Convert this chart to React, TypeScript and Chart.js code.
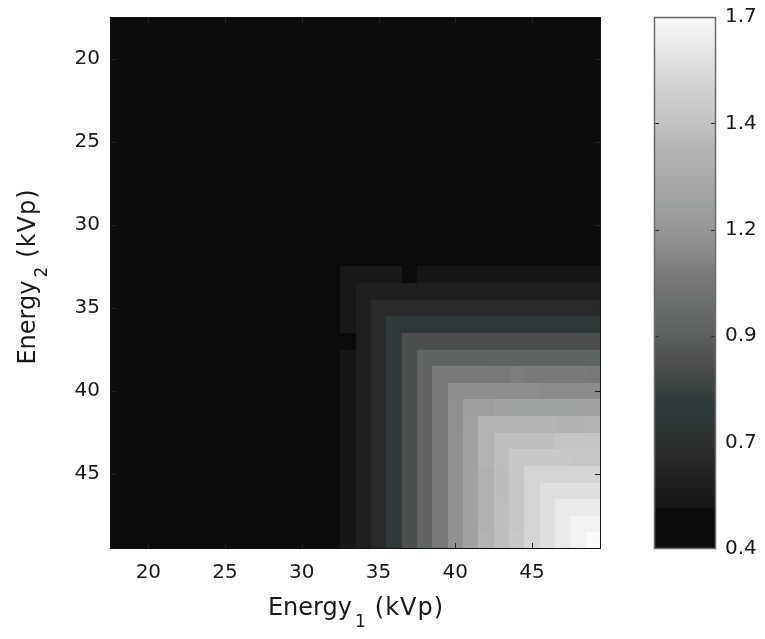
import React, { useEffect, useRef } from "react";
import { Chart, registerables } from "chart.js";

Chart.register(...registerables);

// Tube voltages on each axis (kVp)
const energy1 = [18, 19, 20, 21, 22, 23, 24, 25, 26, 27, 28, 29, 30, 31, 32, 33, 34, 35, 36, 37, 38, 39, 40, 41, 42, 43, 44, 45, 46, 47, 48, 49];
const energy2 = [18, 19, 20, 21, 22, 23, 24, 25, 26, 27, 28, 29, 30, 31, 32, 33, 34, 35, 36, 37, 38, 39, 40, 41, 42, 43, 44, 45, 46, 47, 48, 49];

// Figure of merit, one row per Energy2 value, one column per Energy1 value
const ratio: number[][] = [
  [0.45, 0.45, 0.45, 0.45, 0.45, 0.45, 0.45, 0.45, 0.45, 0.45, 0.45, 0.45, 0.45, 0.45, 0.45, 0.45, 0.45, 0.45, 0.45, 0.45, 0.45, 0.45, 0.45, 0.45, 0.45, 0.45, 0.45, 0.45, 0.45, 0.45, 0.45, 0.45],
  [0.45, 0.45, 0.45, 0.45, 0.45, 0.45, 0.45, 0.45, 0.45, 0.45, 0.45, 0.45, 0.45, 0.45, 0.45, 0.45, 0.45, 0.45, 0.45, 0.45, 0.45, 0.45, 0.45, 0.45, 0.45, 0.45, 0.45, 0.45, 0.45, 0.45, 0.45, 0.45],
  [0.45, 0.45, 0.45, 0.45, 0.45, 0.45, 0.45, 0.45, 0.45, 0.45, 0.45, 0.45, 0.45, 0.45, 0.45, 0.45, 0.45, 0.45, 0.45, 0.45, 0.45, 0.45, 0.45, 0.45, 0.45, 0.45, 0.45, 0.45, 0.45, 0.45, 0.45, 0.45],
  [0.45, 0.45, 0.45, 0.45, 0.45, 0.45, 0.45, 0.45, 0.45, 0.45, 0.45, 0.45, 0.45, 0.45, 0.45, 0.45, 0.45, 0.45, 0.45, 0.45, 0.45, 0.45, 0.45, 0.45, 0.45, 0.45, 0.45, 0.45, 0.45, 0.45, 0.45, 0.45],
  [0.45, 0.45, 0.45, 0.45, 0.45, 0.45, 0.45, 0.45, 0.45, 0.45, 0.45, 0.45, 0.45, 0.45, 0.45, 0.45, 0.45, 0.45, 0.45, 0.45, 0.45, 0.45, 0.45, 0.45, 0.45, 0.45, 0.45, 0.45, 0.45, 0.45, 0.45, 0.45],
  [0.45, 0.45, 0.45, 0.45, 0.45, 0.45, 0.45, 0.45, 0.45, 0.45, 0.45, 0.45, 0.45, 0.45, 0.45, 0.45, 0.45, 0.45, 0.45, 0.45, 0.45, 0.45, 0.45, 0.45, 0.45, 0.45, 0.45, 0.45, 0.45, 0.45, 0.45, 0.45],
  [0.45, 0.45, 0.45, 0.45, 0.45, 0.45, 0.45, 0.45, 0.45, 0.45, 0.45, 0.45, 0.45, 0.45, 0.45, 0.45, 0.45, 0.45, 0.45, 0.45, 0.45, 0.45, 0.45, 0.45, 0.45, 0.45, 0.45, 0.45, 0.45, 0.45, 0.45, 0.45],
  [0.45, 0.45, 0.45, 0.45, 0.45, 0.45, 0.45, 0.45, 0.45, 0.45, 0.45, 0.45, 0.45, 0.45, 0.45, 0.45, 0.45, 0.45, 0.45, 0.45, 0.45, 0.45, 0.45, 0.45, 0.45, 0.45, 0.45, 0.45, 0.45, 0.45, 0.45, 0.45],
  [0.45, 0.45, 0.45, 0.45, 0.45, 0.45, 0.45, 0.45, 0.45, 0.45, 0.45, 0.45, 0.45, 0.45, 0.45, 0.45, 0.45, 0.45, 0.45, 0.45, 0.45, 0.45, 0.45, 0.45, 0.45, 0.45, 0.45, 0.45, 0.45, 0.45, 0.45, 0.45],
  [0.45, 0.45, 0.45, 0.45, 0.45, 0.45, 0.45, 0.45, 0.45, 0.45, 0.45, 0.45, 0.45, 0.45, 0.45, 0.45, 0.45, 0.45, 0.45, 0.45, 0.45, 0.45, 0.45, 0.45, 0.45, 0.45, 0.45, 0.45, 0.45, 0.45, 0.45, 0.45],
  [0.45, 0.45, 0.45, 0.45, 0.45, 0.45, 0.45, 0.45, 0.45, 0.45, 0.45, 0.45, 0.45, 0.45, 0.45, 0.45, 0.45, 0.45, 0.45, 0.45, 0.45, 0.45, 0.45, 0.45, 0.45, 0.45, 0.45, 0.45, 0.45, 0.45, 0.45, 0.45],
  [0.45, 0.45, 0.45, 0.45, 0.45, 0.45, 0.45, 0.45, 0.45, 0.45, 0.45, 0.45, 0.45, 0.45, 0.45, 0.45, 0.45, 0.45, 0.45, 0.45, 0.45, 0.45, 0.45, 0.45, 0.45, 0.45, 0.45, 0.45, 0.45, 0.45, 0.45, 0.45],
  [0.45, 0.45, 0.45, 0.45, 0.45, 0.45, 0.45, 0.45, 0.45, 0.45, 0.45, 0.45, 0.45, 0.45, 0.45, 0.45, 0.45, 0.45, 0.45, 0.45, 0.45, 0.45, 0.45, 0.45, 0.45, 0.45, 0.45, 0.45, 0.45, 0.45, 0.45, 0.45],
  [0.45, 0.45, 0.45, 0.45, 0.45, 0.45, 0.45, 0.45, 0.45, 0.45, 0.45, 0.45, 0.45, 0.45, 0.45, 0.45, 0.45, 0.45, 0.45, 0.45, 0.45, 0.45, 0.45, 0.45, 0.45, 0.45, 0.45, 0.45, 0.45, 0.45, 0.45, 0.45],
  [0.45, 0.45, 0.45, 0.45, 0.45, 0.45, 0.45, 0.45, 0.45, 0.45, 0.45, 0.45, 0.45, 0.45, 0.45, 0.45, 0.45, 0.45, 0.45, 0.45, 0.45, 0.45, 0.45, 0.45, 0.45, 0.45, 0.45, 0.45, 0.45, 0.45, 0.45, 0.45],
  // Energy2 = 33
  [0.45, 0.45, 0.45, 0.45, 0.45, 0.45, 0.45, 0.45, 0.45, 0.45, 0.45, 0.45, 0.45, 0.45, 0.45, 0.52, 0.52, 0.52, 0.52, 0.45, 0.51, 0.51, 0.51, 0.51, 0.51, 0.51, 0.51, 0.51, 0.51, 0.51, 0.51, 0.51],
  [0.45, 0.45, 0.45, 0.45, 0.45, 0.45, 0.45, 0.45, 0.45, 0.45, 0.45, 0.45, 0.45, 0.45, 0.45, 0.52, 0.56, 0.56, 0.56, 0.56, 0.56, 0.56, 0.56, 0.56, 0.56, 0.56, 0.56, 0.56, 0.56, 0.56, 0.56, 0.56],
  [0.45, 0.45, 0.45, 0.45, 0.45, 0.45, 0.45, 0.45, 0.45, 0.45, 0.45, 0.45, 0.45, 0.45, 0.45, 0.52, 0.56, 0.63, 0.63, 0.63, 0.63, 0.63, 0.63, 0.63, 0.63, 0.63, 0.63, 0.63, 0.63, 0.63, 0.63, 0.63],
  [0.45, 0.45, 0.45, 0.45, 0.45, 0.45, 0.45, 0.45, 0.45, 0.45, 0.45, 0.45, 0.45, 0.45, 0.45, 0.52, 0.56, 0.63, 0.75, 0.75, 0.75, 0.75, 0.75, 0.75, 0.75, 0.75, 0.75, 0.75, 0.75, 0.75, 0.75, 0.75],
  [0.45, 0.45, 0.45, 0.45, 0.45, 0.45, 0.45, 0.45, 0.45, 0.45, 0.45, 0.45, 0.45, 0.45, 0.45, 0.45, 0.56, 0.63, 0.75, 0.85, 0.85, 0.85, 0.85, 0.85, 0.85, 0.85, 0.85, 0.85, 0.85, 0.85, 0.85, 0.85],
  [0.45, 0.45, 0.45, 0.45, 0.45, 0.45, 0.45, 0.45, 0.45, 0.45, 0.45, 0.45, 0.45, 0.45, 0.45, 0.51, 0.56, 0.63, 0.75, 0.85, 0.95, 0.95, 0.95, 0.95, 0.95, 0.95, 0.95, 0.95, 0.95, 0.95, 0.95, 0.95],
  [0.45, 0.45, 0.45, 0.45, 0.45, 0.45, 0.45, 0.45, 0.45, 0.45, 0.45, 0.45, 0.45, 0.45, 0.45, 0.51, 0.56, 0.63, 0.75, 0.85, 0.95, 1.07, 1.07, 1.07, 1.07, 1.06, 1.08, 1.07, 1.07, 1.07, 1.07, 1.06],
  [0.45, 0.45, 0.45, 0.45, 0.45, 0.45, 0.45, 0.45, 0.45, 0.45, 0.45, 0.45, 0.45, 0.45, 0.45, 0.51, 0.56, 0.63, 0.75, 0.85, 0.95, 1.07, 1.14, 1.14, 1.14, 1.14, 1.14, 1.14, 1.13, 1.13, 1.13, 1.13],
  [0.45, 0.45, 0.45, 0.45, 0.45, 0.45, 0.45, 0.45, 0.45, 0.45, 0.45, 0.45, 0.45, 0.45, 0.45, 0.51, 0.56, 0.63, 0.75, 0.85, 0.95, 1.07, 1.15, 1.23, 1.23, 1.25, 1.25, 1.25, 1.25, 1.25, 1.25, 1.25],
  [0.45, 0.45, 0.45, 0.45, 0.45, 0.45, 0.45, 0.45, 0.45, 0.45, 0.45, 0.45, 0.45, 0.45, 0.45, 0.51, 0.56, 0.63, 0.75, 0.85, 0.95, 1.07, 1.15, 1.24, 1.38, 1.38, 1.38, 1.38, 1.38, 1.36, 1.36, 1.37],
  [0.45, 0.45, 0.45, 0.45, 0.45, 0.45, 0.45, 0.45, 0.45, 0.45, 0.45, 0.45, 0.45, 0.45, 0.45, 0.51, 0.56, 0.63, 0.75, 0.85, 0.95, 1.07, 1.16, 1.25, 1.37, 1.42, 1.42, 1.42, 1.42, 1.45, 1.45, 1.45],
  [0.45, 0.45, 0.45, 0.45, 0.45, 0.45, 0.45, 0.45, 0.45, 0.45, 0.45, 0.45, 0.45, 0.45, 0.45, 0.51, 0.56, 0.63, 0.75, 0.85, 0.95, 1.07, 1.16, 1.25, 1.37, 1.42, 1.48, 1.48, 1.48, 1.48, 1.47, 1.47],
  [0.45, 0.45, 0.45, 0.45, 0.45, 0.45, 0.45, 0.45, 0.45, 0.45, 0.45, 0.45, 0.45, 0.45, 0.45, 0.51, 0.56, 0.63, 0.75, 0.85, 0.95, 1.07, 1.16, 1.25, 1.35, 1.41, 1.48, 1.54, 1.54, 1.54, 1.54, 1.54],
  [0.45, 0.45, 0.45, 0.45, 0.45, 0.45, 0.45, 0.45, 0.45, 0.45, 0.45, 0.45, 0.45, 0.45, 0.45, 0.51, 0.56, 0.63, 0.75, 0.85, 0.95, 1.07, 1.16, 1.25, 1.35, 1.41, 1.47, 1.54, 1.58, 1.58, 1.58, 1.58],
  [0.45, 0.45, 0.45, 0.45, 0.45, 0.45, 0.45, 0.45, 0.45, 0.45, 0.45, 0.45, 0.45, 0.45, 0.45, 0.51, 0.56, 0.63, 0.75, 0.85, 0.95, 1.07, 1.16, 1.25, 1.35, 1.42, 1.47, 1.54, 1.58, 1.63, 1.63, 1.63],
  [0.45, 0.45, 0.45, 0.45, 0.45, 0.45, 0.45, 0.45, 0.45, 0.45, 0.45, 0.45, 0.45, 0.45, 0.45, 0.51, 0.56, 0.63, 0.75, 0.85, 0.95, 1.07, 1.16, 1.25, 1.36, 1.42, 1.47, 1.54, 1.58, 1.63, 1.67, 1.67],
  [0.45, 0.45, 0.45, 0.45, 0.45, 0.45, 0.45, 0.45, 0.45, 0.45, 0.45, 0.45, 0.45, 0.45, 0.45, 0.51, 0.56, 0.63, 0.75, 0.85, 0.95, 1.07, 1.16, 1.25, 1.37, 1.42, 1.48, 1.54, 1.58, 1.63, 1.67, 1.70],
];

const axisTicks = [20, 25, 30, 35, 40, 45];
const colorbarTicks = [0.4, 0.66, 0.92, 1.18, 1.44, 1.7];
const colorbarMin = 0.4;
const colorbarMax = 1.7;

// Gray colormap with a slight cyan tint through the middle of the range
const grayStops: [number, number, number, number][] = [
  [0.4, 11, 11, 11],
  [0.5, 11, 11, 11],
  [0.501, 21, 21, 21],
  [0.56, 30, 30, 30],
  [0.63, 41, 42, 42],
  [0.7, 44, 52, 52],
  [0.76, 48, 58, 58],
  [0.85, 77, 78, 78],
  [0.95, 95, 101, 101],
  [1.07, 122, 122, 122],
  [1.14, 142, 142, 142],
  [1.25, 160, 163, 163],
  [1.38, 180, 180, 180],
  [1.42, 190, 190, 190],
  [1.48, 200, 200, 200],
  [1.54, 212, 212, 212],
  [1.58, 222, 222, 222],
  [1.63, 234, 234, 234],
  [1.67, 242, 242, 242],
  [1.7, 250, 250, 250],
];

function colorFor(v: number): string {
  if (v <= grayStops[0][0]) {
    const s = grayStops[0];
    return `rgb(${s[1]},${s[2]},${s[3]})`;
  }
  for (let i = 1; i < grayStops.length; i++) {
    const a = grayStops[i - 1];
    const b = grayStops[i];
    if (v <= b[0]) {
      const t = (v - a[0]) / (b[0] - a[0]);
      const r = Math.round(a[1] + (b[1] - a[1]) * t);
      const g = Math.round(a[2] + (b[2] - a[2]) * t);
      const bl = Math.round(a[3] + (b[3] - a[3]) * t);
      return `rgb(${r},${g},${bl})`;
    }
  }
  const s = grayStops[grayStops.length - 1];
  return `rgb(${s[1]},${s[2]},${s[3]})`;
}

const FONT = '"DejaVu Sans", "Liberation Sans", sans-serif';
const TEXT_COLOR = "#1a1a1a";

type Cell = { x: number; y: number; v: number };

// Fixed box size for an axis, without the extra edge padding Chart.js adds for labels
function fixBox(size: { width?: number; height?: number }) {
  return (s: any) => {
    if (size.width !== undefined) s.width = size.width;
    if (size.height !== undefined) s.height = size.height;
    s.paddingTop = 0;
    s.paddingBottom = 0;
    s.paddingLeft = 0;
    s.paddingRight = 0;
  };
}

const heatmapPlugin = {
  id: "heatmapCells",
  beforeDatasetsDraw(chart: any) {
    const { ctx, chartArea } = chart;
    const xs = chart.scales.x;
    const ys = chart.scales.y;
    const cells: Cell[] = chart.data.datasets[0].data;
    ctx.save();
    ctx.beginPath();
    ctx.rect(chartArea.left, chartArea.top, chartArea.right - chartArea.left, chartArea.bottom - chartArea.top);
    ctx.clip();
    for (const c of cells) {
      const x0 = Math.round(xs.getPixelForValue(c.x - 0.5));
      const x1 = Math.round(xs.getPixelForValue(c.x + 0.5));
      const y0 = Math.round(ys.getPixelForValue(c.y - 0.5));
      const y1 = Math.round(ys.getPixelForValue(c.y + 0.5));
      ctx.fillStyle = colorFor(c.v);
      ctx.fillRect(Math.min(x0, x1), Math.min(y0, y1), Math.abs(x1 - x0), Math.abs(y1 - y0));
    }
    ctx.restore();
  },
  afterDatasetsDraw(chart: any) {
    const { ctx, chartArea } = chart;
    const xs = chart.scales.x;
    const ys = chart.scales.y;
    const tick = 6;
    ctx.save();
    ctx.strokeStyle = "#262626";
    ctx.lineWidth = 1;
    ctx.beginPath();
    for (const v of axisTicks) {
      const px = Math.round(xs.getPixelForValue(v)) + 0.5;
      ctx.moveTo(px, chartArea.bottom);
      ctx.lineTo(px, chartArea.bottom - tick);
      ctx.moveTo(px, chartArea.top);
      ctx.lineTo(px, chartArea.top + tick);
      const py = Math.round(ys.getPixelForValue(v)) + 0.5;
      ctx.moveTo(chartArea.left, py);
      ctx.lineTo(chartArea.left + tick, py);
      ctx.moveTo(chartArea.right, py);
      ctx.lineTo(chartArea.right - tick, py);
    }
    ctx.stroke();
    ctx.strokeStyle = "#111111";
    ctx.strokeRect(chartArea.left + 0.5, chartArea.top + 0.5, chartArea.right - chartArea.left - 1, chartArea.bottom - chartArea.top - 1);
    ctx.restore();
  },
};

const colorbarPlugin = {
  id: "colorbar",
  afterDraw(chart: any) {
    const { ctx } = chart;
    const cb = chart.scales.cb;
    const left = cb.left + 53;
    const width = 62;
    const top = Math.round(cb.getPixelForValue(colorbarMax));
    const bottom = Math.round(cb.getPixelForValue(colorbarMin));
    ctx.save();
    for (let y = top; y < bottom; y++) {
      ctx.fillStyle = colorFor(cb.getValueForPixel(y + 0.5));
      ctx.fillRect(left, y, width, 1);
    }
    ctx.strokeStyle = "#303030";
    ctx.lineWidth = 1;
    ctx.beginPath();
    for (const v of colorbarTicks.slice(1, -1)) {
      const py = Math.round(cb.getPixelForValue(v)) + 0.5;
      ctx.moveTo(left, py);
      ctx.lineTo(left + 5, py);
      ctx.moveTo(left + width, py);
      ctx.lineTo(left + width - 5, py);
    }
    ctx.stroke();
    ctx.strokeStyle = "#6a6a6a";
    ctx.lineWidth = 1.5;
    ctx.strokeRect(left + 0.5, top + 0.5, width - 1, bottom - top - 1);
    ctx.restore();
  },
};

// "Energy" + subscript index + "(kVp)", centred on (cx, cy)
function drawSubscripted(ctx: CanvasRenderingContext2D, cx: number, cy: number, vertical: boolean, main: string, sub: string, tail: string) {
  const big = `24px ${FONT}`;
  const small = `17px ${FONT}`;
  const gapBeforeSub = 3;
  const gapAfterSub = 9;
  const subDrop = 12;
  const tailSpacing = 1;
  ctx.save();
  ctx.translate(cx, cy);
  if (vertical) ctx.rotate(-Math.PI / 2);
  ctx.textBaseline = "alphabetic";
  ctx.textAlign = "left";
  ctx.fillStyle = TEXT_COLOR;
  ctx.font = big;
  const w1 = ctx.measureText(main).width;
  (ctx as any).letterSpacing = `${tailSpacing}px`;
  const w3 = ctx.measureText(tail).width - tailSpacing;
  (ctx as any).letterSpacing = "0px";
  ctx.font = small;
  const w2 = ctx.measureText(sub).width;
  let x = -(w1 + gapBeforeSub + w2 + gapAfterSub + w3) / 2;
  ctx.font = big;
  ctx.fillText(main, x, 0);
  x += w1 + gapBeforeSub;
  ctx.font = small;
  ctx.fillText(sub, x, subDrop);
  x += w2 + gapAfterSub;
  ctx.font = big;
  (ctx as any).letterSpacing = `${tailSpacing}px`;
  ctx.fillText(tail, x, 0);
  (ctx as any).letterSpacing = "0px";
  ctx.restore();
}

const axisTitlePlugin = {
  id: "axisTitles",
  afterDraw(chart: any) {
    const { ctx, chartArea } = chart;
    const cx = (chartArea.left + chartArea.right) / 2;
    const cy = (chartArea.top + chartArea.bottom) / 2;
    drawSubscripted(ctx, cx, chartArea.bottom + 66, false, "Energy", "1", "(kVp)");
    drawSubscripted(ctx, 35, cy - 6, true, "Energy", "2", "(kVp)");
  },
};

export default function App() {
  const canvasRef = useRef<HTMLCanvasElement | null>(null);

  useEffect(() => {
    if (!canvasRef.current) return;
    const cells: Cell[] = [];
    energy2.forEach((e2, i) => {
      energy1.forEach((e1, j) => {
        cells.push({ x: e1, y: e2, v: ratio[i][j] });
      });
    });

    const tickFont = { family: FONT, size: 20 };
    const chart = new Chart(canvasRef.current, {
      type: "scatter",
      data: {
        datasets: [
          {
            data: cells as any,
            pointRadius: 0,
            pointHoverRadius: 0,
            xAxisID: "x",
            yAxisID: "y",
          },
        ],
      },
      options: {
        responsive: false,
        animation: false,
        events: [],
        layout: { padding: { top: 17, left: 0, right: 0, bottom: 0 } },
        plugins: { legend: { display: false }, tooltip: { enabled: false } },
        scales: {
          x: {
            type: "linear",
            position: "bottom",
            min: 17.5,
            max: 49.5,
            afterBuildTicks: (s: any) => {
              s.ticks = axisTicks.map((value) => ({ value }));
            },
            afterFit: fixBox({ height: 90 }),
            grid: { display: false, drawTicks: false },
            border: { display: false },
            ticks: { font: tickFont, color: TEXT_COLOR, padding: 12, maxRotation: 0, autoSkip: false },
          },
          y: {
            type: "linear",
            position: "left",
            reverse: true,
            min: 17.5,
            max: 49.5,
            afterBuildTicks: (s: any) => {
              s.ticks = axisTicks.map((value) => ({ value }));
            },
            afterFit: fixBox({ width: 110 }),
            grid: { display: false, drawTicks: false },
            border: { display: false },
            ticks: { font: tickFont, color: TEXT_COLOR, padding: 10, autoSkip: false },
          },
          cb: {
            type: "linear",
            position: "right",
            min: colorbarMin,
            max: colorbarMax,
            afterBuildTicks: (s: any) => {
              s.ticks = colorbarTicks.map((value) => ({ value }));
            },
            afterFit: fixBox({ width: 164 }),
            grid: { display: false, drawTicks: false },
            border: { display: false },
            ticks: {
              font: tickFont,
              color: TEXT_COLOR,
              padding: 124,
              autoSkip: false,
              callback: (v: any) => Number(v).toFixed(1),
            },
          },
        },
      },
      plugins: [heatmapPlugin, colorbarPlugin, axisTitlePlugin],
    });
    return () => chart.destroy();
  }, []);

  return (
    <div style={{ position: "absolute", left: 0, top: 0, width: 765, height: 639, background: "#ffffff" }}>
      <canvas ref={canvasRef} width={765} height={639} style={{ display: "block" }} />
    </div>
  );
}
